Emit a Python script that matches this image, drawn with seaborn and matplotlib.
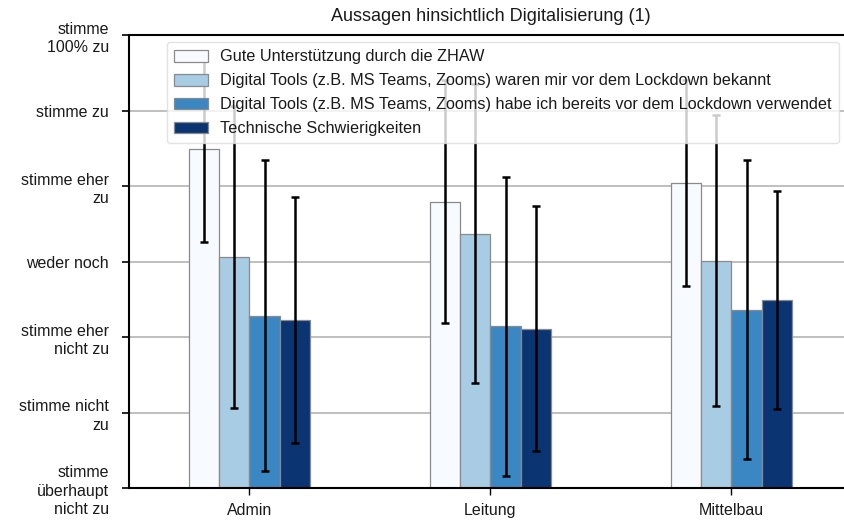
import matplotlib
matplotlib.use("Agg")
import matplotlib.pyplot as plt
import seaborn as sns
import pandas as pd
import numpy as np

groups = ["Admin", "Leitung", "Mittelbau"]
statements = [
    "Gute Unterstützung durch die ZHAW",
    "Digital Tools (z.B. MS Teams, Zooms) waren mir vor dem Lockdown bekannt",
    "Digital Tools (z.B. MS Teams, Zooms) habe ich bereits vor dem Lockdown verwendet",
    "Technische Schwierigkeiten",
]
# mean per statement, per group (Admin, Leitung, Mittelbau)
mean_gute = [5.49, 4.79, 5.04]
mean_bekannt = [4.06, 4.37, 4.01]
mean_verwendet = [3.28, 3.14, 3.36]
mean_technik = [3.23, 3.11, 3.49]
# standard deviations
sd_gute = [1.23, 1.61, 1.36]
sd_bekannt = [2.00, 1.98, 1.93]
sd_verwendet = [2.06, 1.98, 1.98]
sd_technik = [1.63, 1.62, 1.45]

ytick_values = [1, 2, 3, 4, 5, 6, 7]
ytick_labels = [
    "stimme\nüberhaupt\nnicht zu",
    "stimme nicht\nzu",
    "stimme eher\nnicht zu",
    "weder noch",
    "stimme eher\nzu",
    "stimme zu",
    "stimme\n100% zu",
]
colors = ["#f7fbff", "#a8cce4", "#3a87c4", "#0b3473"]
title = "Aussagen hinsichtlich Digitalisierung (1)"

means = [mean_gute, mean_bekannt, mean_verwendet, mean_technik]
sds = [sd_gute, sd_bekannt, sd_verwendet, sd_technik]
rows = []
for s, m, sd in zip(statements, means, sds):
    for g, mv, sv in zip(groups, m, sd):
        rows.append({"Gruppe": g, "Aussage": s, "Wert": mv, "SD": sv})
df = pd.DataFrame(rows)

sns.set_theme(style="white")
plt.rcParams["font.family"] = ["Liberation Sans", "DejaVu Sans"]
plt.rcParams["text.color"] = "#1a1a1a"
plt.rcParams["xtick.color"] = "#1a1a1a"
plt.rcParams["ytick.color"] = "#1a1a1a"

fig = plt.figure(figsize=(8.45, 5.23), dpi=100)
ax = fig.add_axes([129 / 845, 1 - 488 / 523, (852 - 129) / 845, (488 - 35) / 523])

sns.barplot(data=df, x="Gruppe", y="Wert", hue="Aussage", order=groups,
            hue_order=statements, palette=colors, saturation=1, width=0.5,
            errorbar=None, edgecolor="#8a8a8a", linewidth=0.9, ax=ax, zorder=2)

for cont, s in zip(ax.containers, statements):
    sub = df[df["Aussage"] == s].set_index("Gruppe").loc[groups]
    xs = [p.get_x() + p.get_width() / 2 for p in cont.patches]
    ax.errorbar(xs, sub["Wert"].values, yerr=sub["SD"].values, fmt="none",
                ecolor="black", elinewidth=1.8, capsize=3.2, capthick=1.8,
                zorder=3)

ax.set_xlim(-0.5, 2.5)
ax.set_ylim(1, 7)
ax.set_yticks(ytick_values)
ax.set_yticklabels(ytick_labels, fontsize=11.5, linespacing=1.3)
ax.tick_params(axis="x", labelsize=11.5, length=5, width=1, color="black",
               bottom=True, pad=6)
ax.tick_params(axis="y", length=5, width=1.2, color="black", left=True, pad=9.5)
ax.set_xlabel("")
ax.set_ylabel("")
ax.yaxis.grid(True, color="#b4b4b4", linewidth=1.2)
ax.set_axisbelow(True)
for side in ["left", "bottom", "top"]:
    ax.spines[side].set_color("black")
    ax.spines[side].set_linewidth(1.5)
ax.spines["right"].set_visible(False)

ax.set_title(title, fontsize=13, pad=10)

handles, labels = ax.get_legend_handles_labels()
if ax.get_legend() is not None:
    ax.get_legend().remove()
leg = ax.legend(handles, labels, loc="upper left",
                bbox_to_anchor=((167 - 129) / (852 - 129), (488 - 42) / (488 - 35)),
                borderaxespad=0, fontsize=11.7, frameon=True, framealpha=0.8,
                edgecolor="#dddddd", fancybox=True, labelspacing=0.55,
                handlelength=2.1, handleheight=0.75, handletextpad=0.7,
                borderpad=0.45)
leg.set_zorder(5)

fig.savefig("out.png", dpi=100)
